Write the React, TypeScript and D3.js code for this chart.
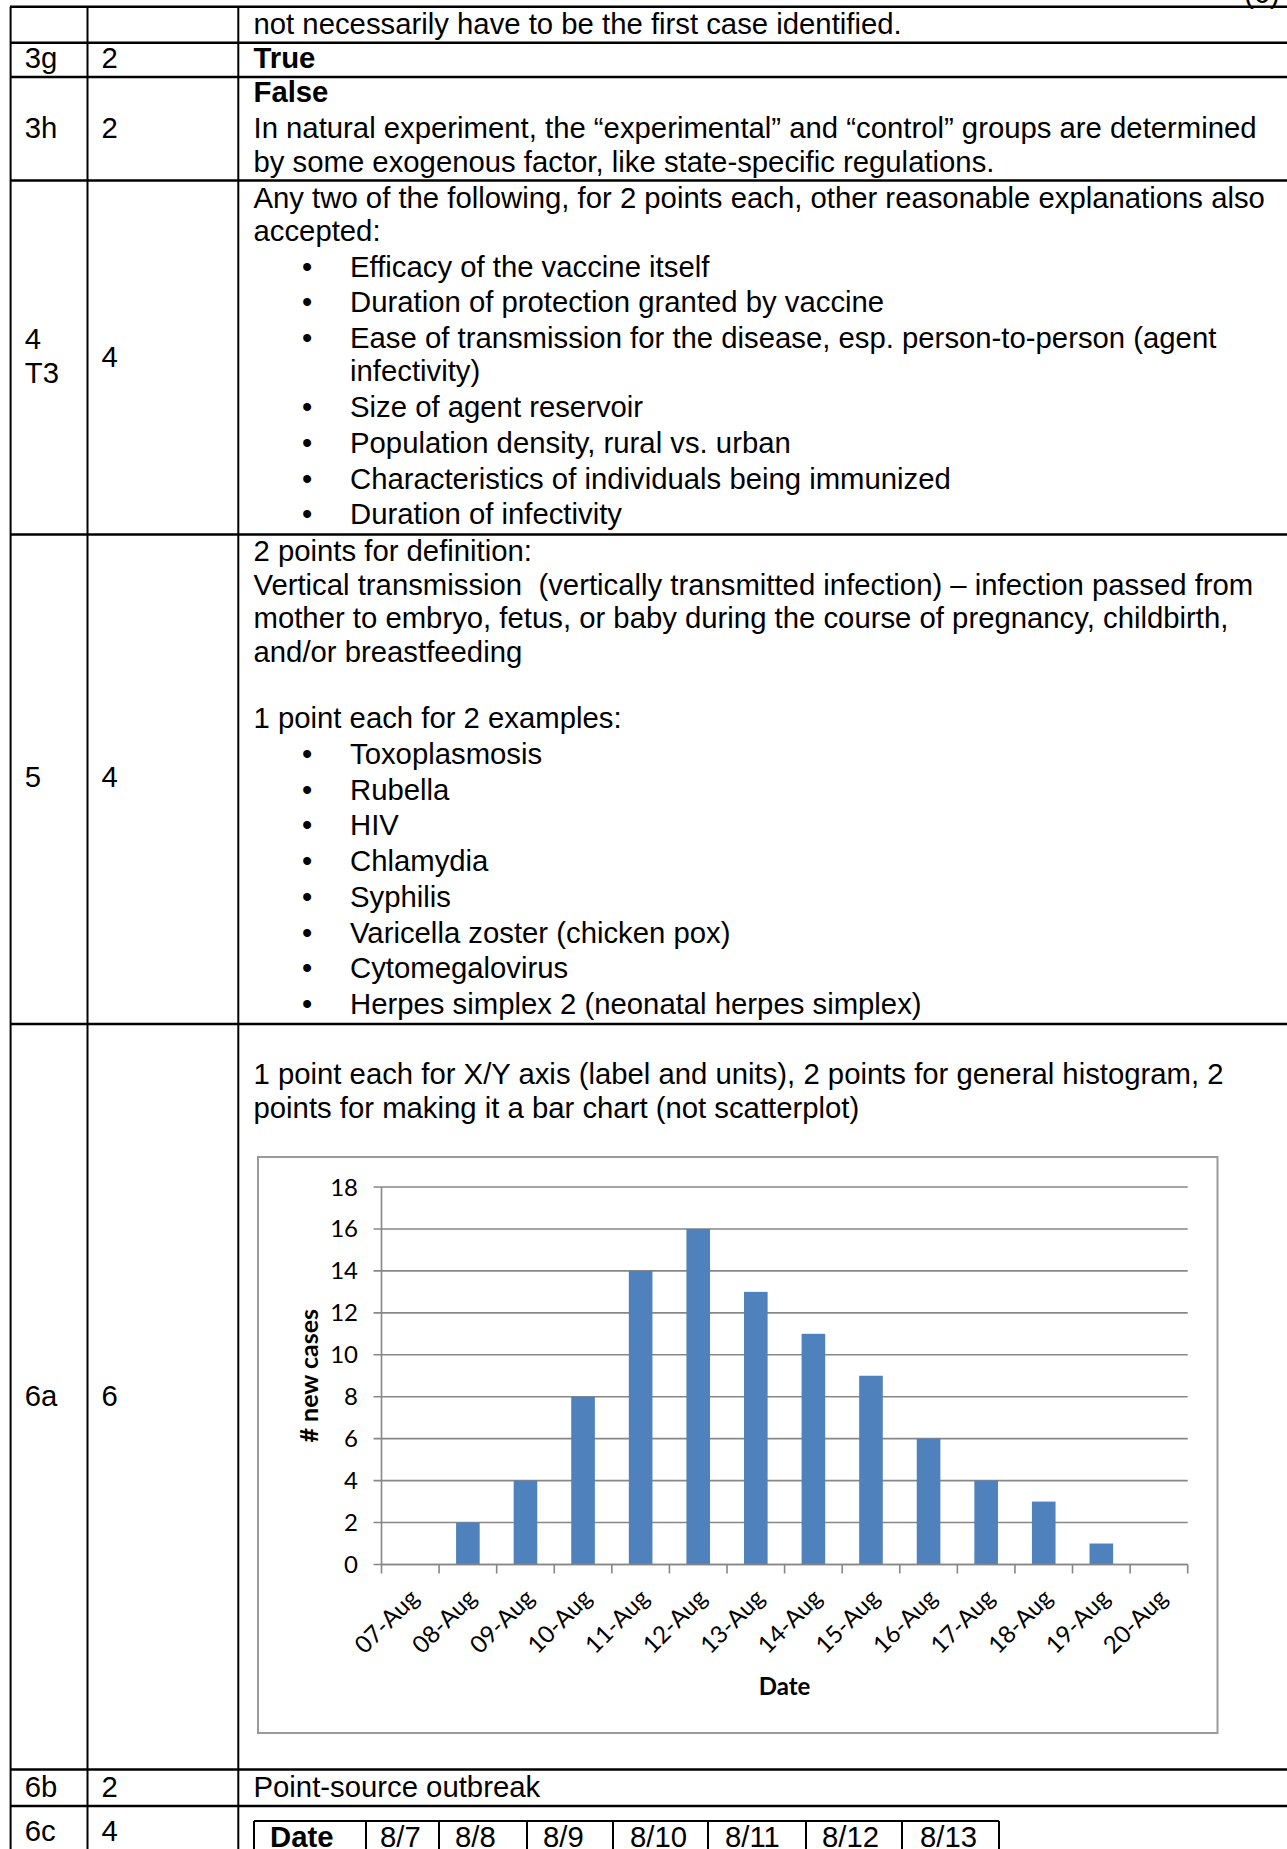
import { useEffect, useRef } from 'react';
import { scaleBand, scaleLinear, select } from 'd3';

// chart data
const dates = ['07-Aug', '08-Aug', '09-Aug', '10-Aug', '11-Aug', '12-Aug', '13-Aug', '14-Aug', '15-Aug', '16-Aug', '17-Aug', '18-Aug', '19-Aug', '20-Aug'];
const newCases = [0, 2, 4, 8, 14, 16, 13, 11, 9, 6, 4, 3, 1, 0];
const yTicks = [0, 2, 4, 6, 8, 10, 12, 14, 16, 18];

// document text
const row0Text = ['not necessarily have to be the first case identified.'];
const row3hText = [
  'In natural experiment, the \u201cexperimental\u201d and \u201ccontrol\u201d groups are determined',
  'by some exogenous factor, like state-specific regulations.',
];
const row4Intro = ['Any two of the following, for 2 points each, other reasonable explanations also', 'accepted:'];
const row4Bullets = [
  ['Efficacy of the vaccine itself'],
  ['Duration of protection granted by vaccine'],
  ['Ease of transmission for the disease, esp. person-to-person (agent', 'infectivity)'],
  ['Size of agent reservoir'],
  ['Population density, rural vs. urban'],
  ['Characteristics of individuals being immunized'],
  ['Duration of infectivity'],
];
const row5Intro = [
  '2 points for definition:',
  'Vertical transmission  (vertically transmitted infection) \u2013 infection passed from',
  'mother to embryo, fetus, or baby during the course of pregnancy, childbirth,',
  'and/or breastfeeding',
  '',
  '1 point each for 2 examples:',
];
const row5Bullets = ['Toxoplasmosis', 'Rubella', 'HIV', 'Chlamydia', 'Syphilis', 'Varicella zoster (chicken pox)', 'Cytomegalovirus', 'Herpes simplex 2 (neonatal herpes simplex)'];
const row6aText = [
  '1 point each for X/Y axis (label and units), 2 points for general histogram, 2',
  'points for making it a bar chart (not scatterplot)',
];
const row6cHeader = ['Date', '8/7', '8/8', '8/9', '8/10', '8/11', '8/12', '8/13'];

const FONT = '"Liberation Sans", Arial, sans-serif';
const CHART_FONT = 'Lato, "Open Sans", sans-serif';
const FS = 29.3;
const LH = 35;
const PARA_LH = 33.4;
const BULLET_LH = 35.7;
const TEXT_X = 253.5;
const BULLET_X = 302;
const BULLET_TEXT_X = 350;

const hLines = [6.7, 42.7, 77, 180.5, 534.4, 1024, 1769.5, 1806];
const vLines = [10.6, 87.5, 238.3];
const innerCols = [254, 366, 439, 527, 613, 708, 806, 902, 999];
const innerText = [270, 380, 455, 543, 630, 725, 822, 920];

function CaseChart() {
  const gRef = useRef<SVGGElement>(null);

  useEffect(() => {
    if (!gRef.current) return;
    const g = select(gRef.current);
    g.selectAll('*').remove();

    const left = 381.5;
    const right = 1187.7;
    const top = 1187;
    const bottom = 1564.5;
    const gray = '#878787';

    const x = scaleBand<string>().domain(dates).range([left, right]).paddingInner(0.59).paddingOuter(0.295);
    const y = scaleLinear().domain([0, 18]).range([bottom, top]);

    // frame
    g.append('rect')
      .attr('x', 258)
      .attr('y', 1157)
      .attr('width', 959.5)
      .attr('height', 576)
      .attr('fill', '#fff')
      .attr('stroke', '#9a9a9a')
      .attr('stroke-width', 2);

    // gridlines + y ticks
    g.selectAll('line.grid')
      .data(yTicks)
      .join('line')
      .attr('class', 'grid')
      .attr('x1', left - 8)
      .attr('x2', right)
      .attr('y1', (d) => y(d))
      .attr('y2', (d) => y(d))
      .attr('stroke', gray)
      .attr('stroke-width', 1.6);

    g.selectAll('text.ytick')
      .data(yTicks)
      .join('text')
      .attr('class', 'ytick')
      .attr('x', 358)
      .attr('y', (d) => y(d) + 8.5)
      .attr('text-anchor', 'end')
      .attr('font-family', CHART_FONT)
      .attr('font-size', 24)
      .attr('fill', '#000')
      .text((d) => d);

    // bars
    g.selectAll('rect.bar')
      .data(dates)
      .join('rect')
      .attr('class', 'bar')
      .attr('x', (d) => x(d)!)
      .attr('width', x.bandwidth())
      .attr('y', (_d, i) => y(newCases[i]))
      .attr('height', (_d, i) => bottom - y(newCases[i]))
      .attr('fill', '#4f81bd');

    // axes lines
    g.append('line')
      .attr('x1', left)
      .attr('x2', left)
      .attr('y1', top)
      .attr('y2', bottom)
      .attr('stroke', gray)
      .attr('stroke-width', 1.6);
    g.append('line')
      .attr('x1', left)
      .attr('x2', right)
      .attr('y1', bottom)
      .attr('y2', bottom)
      .attr('stroke', gray)
      .attr('stroke-width', 1.6);

    // x ticks at category boundaries
    const step = x.step();
    g.selectAll('line.xtick')
      .data(dates.concat(['end']))
      .join('line')
      .attr('class', 'xtick')
      .attr('x1', (_d, i) => left + i * step)
      .attr('x2', (_d, i) => left + i * step)
      .attr('y1', bottom)
      .attr('y2', bottom + 9)
      .attr('stroke', gray)
      .attr('stroke-width', 1.6);

    g.selectAll('text.xlabel')
      .data(dates)
      .join('text')
      .attr('class', 'xlabel')
      .attr('transform', (d) => `translate(${x(d)! + x.bandwidth() / 2 + 10},${bottom + 35}) rotate(-45)`)
      .attr('text-anchor', 'end')
      .attr('font-family', CHART_FONT)
      .attr('font-size', 24)
      .attr('fill', '#000')
      .text((d) => d);

    // axis titles
    g.append('text')
      .attr('transform', `translate(318,${(top + bottom) / 2}) rotate(-90)`)
      .attr('text-anchor', 'middle')
      .attr('font-family', CHART_FONT)
      .attr('font-weight', 'bold')
      .attr('font-size', 25)
      .text('# new cases');

    g.append('text')
      .attr('x', (left + right) / 2)
      .attr('y', 1695)
      .attr('text-anchor', 'middle')
      .attr('font-family', CHART_FONT)
      .attr('font-weight', 'bold')
      .attr('font-size', 24)
      .text('Date');
  }, []);

  return <g ref={gRef} />;
}

function Line({ x, y, children, bold }: { x: number; y: number; children: string; bold?: boolean }) {
  return (
    <text x={x} y={y} fontFamily={FONT} fontSize={FS} fontWeight={bold ? 'bold' : 'normal'} style={{ whiteSpace: 'pre' }} fill="#000">
      {children}
    </text>
  );
}

type ListLine = { text: string; bullet: boolean; indent: boolean; y: number };

// paragraph lines followed by bullet lines, with Word-like spacing
function buildList(intro: string[], bullets: string[][], firstBase: number): ListLine[] {
  const out: ListLine[] = [];
  let yy = firstBase;
  intro.forEach((t, i) => {
    if (i > 0) yy += PARA_LH;
    out.push({ text: t, bullet: false, indent: false, y: yy });
  });
  bullets.forEach((b) => {
    b.forEach((t, j) => {
      yy += j === 0 ? BULLET_LH : PARA_LH;
      out.push({ text: t, bullet: j === 0, indent: true, y: yy });
    });
  });
  return out;
}

export default function App() {
  const r4 = buildList(row4Intro, row4Bullets, 207.5);
  const r5 = buildList(row5Intro, row5Bullets.map((b) => [b]), 561.3);

  return (
    <svg
      width={1287}
      height={1849}
      style={{ position: 'absolute', left: 0, top: 0, background: '#fff' }}
    >
      <rect x={0} y={0} width={1287} height={1849} fill="#fff" />
      {/* table grid */}
      {hLines.map((yy, i) => (
        <line key={'h' + i} x1={10} x2={1287} y1={yy} y2={yy} stroke="#000" strokeWidth={2.5} />
      ))}
      {vLines.map((xx, i) => (
        <line key={'v' + i} x1={xx} x2={xx} y1={6.7} y2={1849} stroke="#000" strokeWidth={2} />
      ))}
      <text x={1244} y={3} fontFamily={FONT} fontSize={FS}>(6)</text>

      {/* row 0 */}
      {row0Text.map((t, i) => <Line key={'r0' + i} x={TEXT_X} y={34 + LH * i}>{t}</Line>)}

      {/* 3g */}
      <Line x={24.8} y={67.5}>3g</Line>
      <Line x={101.5} y={67.5}>2</Line>
      <Line x={TEXT_X} y={67.5} bold>True</Line>

      {/* 3h */}
      <Line x={24.8} y={137.5}>3h</Line>
      <Line x={101.5} y={137.5}>2</Line>
      <Line x={TEXT_X} y={102.4} bold>False</Line>
      {row3hText.map((t, i) => <Line key={'r3h' + i} x={TEXT_X} y={137.5 + 34.7 * i}>{t}</Line>)}

      {/* 4 T3 */}
      <Line x={24.8} y={349}>4</Line>
      <Line x={24.8} y={383}>T3</Line>
      <Line x={101.5} y={366.5}>4</Line>
      {r4.map((l, i) => (
        <g key={'r4' + i}>
          {l.bullet && <Line x={BULLET_X} y={l.y}>{'\u2022'}</Line>}
          <Line x={l.indent ? BULLET_TEXT_X : TEXT_X} y={l.y}>{l.text}</Line>
        </g>
      ))}

      {/* 5 */}
      <Line x={24.8} y={786.5}>5</Line>
      <Line x={101.5} y={786.5}>4</Line>
      {r5.map((l, i) => (
        <g key={'r5' + i}>
          {l.bullet && <Line x={BULLET_X} y={l.y}>{'\u2022'}</Line>}
          <Line x={l.indent ? BULLET_TEXT_X : TEXT_X} y={l.y}>{l.text}</Line>
        </g>
      ))}

      {/* 6a */}
      <Line x={24.8} y={1406}>6a</Line>
      <Line x={101.5} y={1406}>6</Line>
      {row6aText.map((t, i) => <Line key={'r6a' + i} x={TEXT_X} y={1084 + 34.2 * i}>{t}</Line>)}
      <CaseChart />

      {/* 6b */}
      <Line x={24.8} y={1796.5}>6b</Line>
      <Line x={101.5} y={1796.5}>2</Line>
      <Line x={TEXT_X} y={1796.5}>Point-source outbreak</Line>

      {/* 6c */}
      <Line x={24.8} y={1841}>6c</Line>
      <Line x={101.5} y={1841}>4</Line>
      <line x1={innerCols[0]} x2={innerCols[innerCols.length - 1]} y1={1821} y2={1821} stroke="#000" strokeWidth={2} />
      {innerCols.map((xx, i) => (
        <line key={'ic' + i} x1={xx} x2={xx} y1={1821} y2={1849} stroke="#000" strokeWidth={2} />
      ))}
      {row6cHeader.map((t, i) => (
        <Line key={'hc' + i} x={innerText[i]} y={1847} bold={i === 0}>{t}</Line>
      ))}
    </svg>
  );
}
